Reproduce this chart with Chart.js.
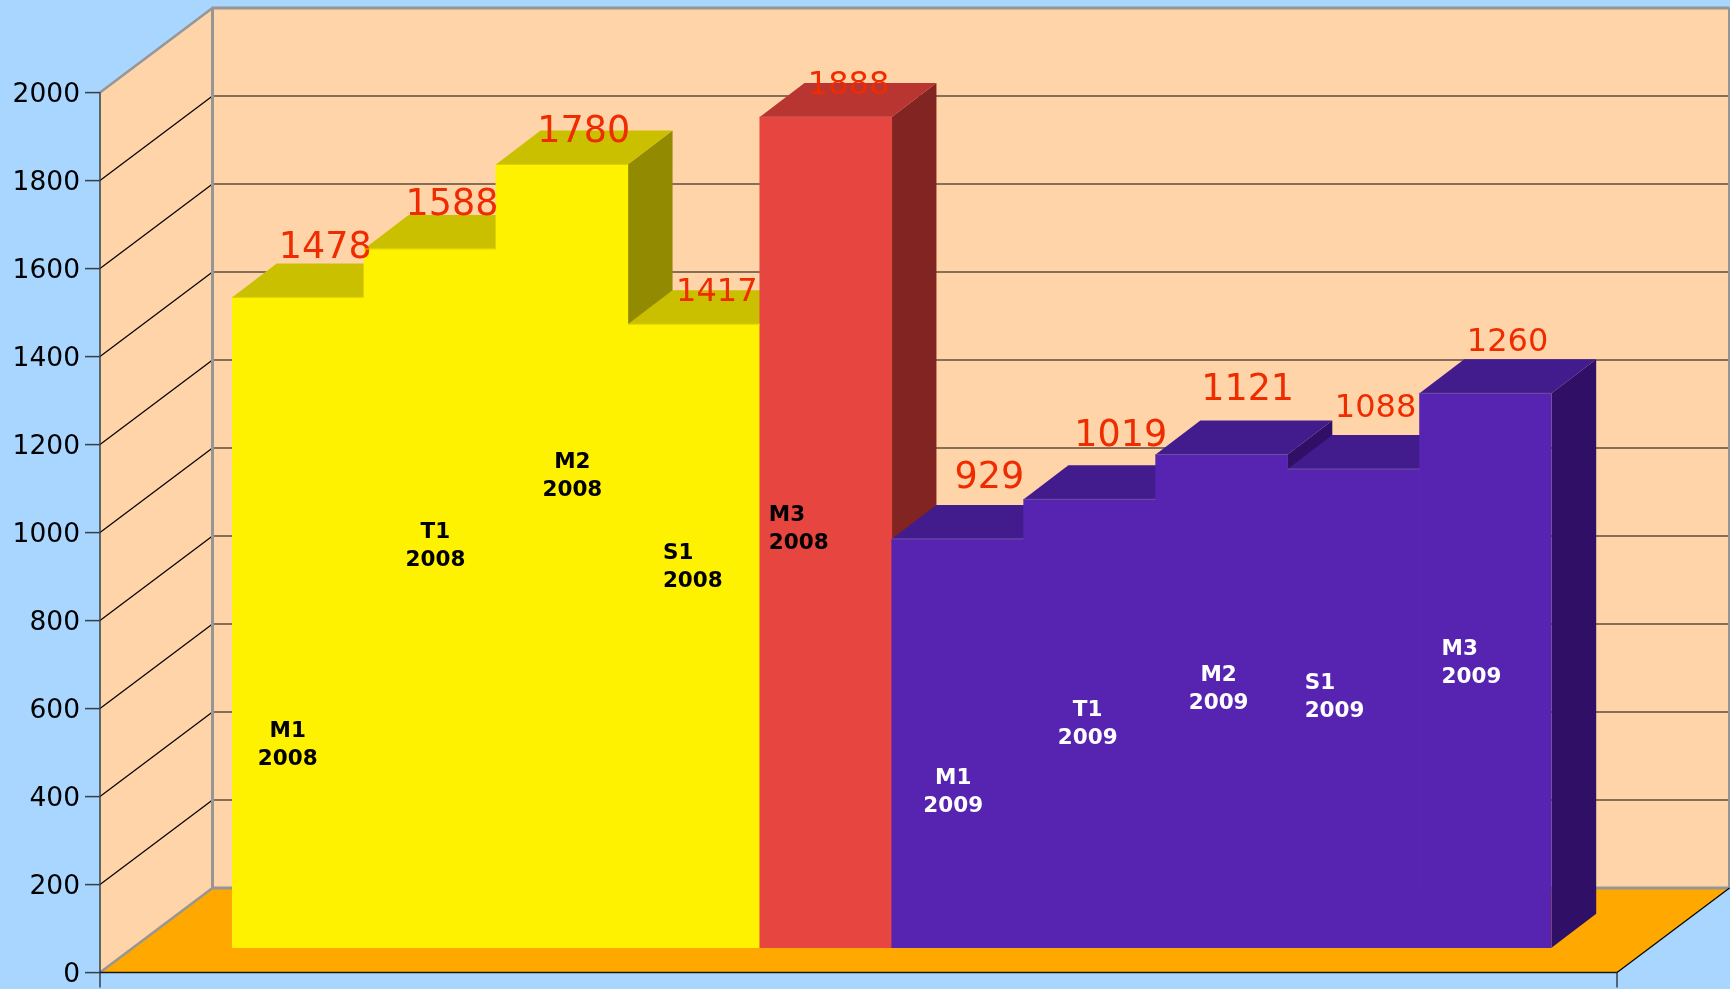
<!DOCTYPE html>
<html>
<head>
<meta charset="utf-8">
<title>Chart</title>
<script src="https://cdn.jsdelivr.net/npm/chart.js@4"></script>
<style>
html, body { margin: 0; padding: 0; background: #a8d6ff; }
canvas { display: block; }
</style>
</head>
<body>
<canvas id="chart" width="1730" height="989"></canvas>
<script>
const categories = ['M1 2008', 'T1 2008', 'M2 2008', 'S1 2008', 'M3 2008', 'M1 2009', 'T1 2009', 'M2 2009', 'S1 2009', 'M3 2009'];
const values = [1478, 1588, 1780, 1417, 1888, 929, 1019, 1121, 1088, 1260];
const tickValues = [0, 200, 400, 600, 800, 1000, 1200, 1400, 1600, 1800, 2000];

// colour group of each bar
const groups = ['yellow', 'yellow', 'yellow', 'yellow', 'red', 'purple', 'purple', 'purple', 'purple', 'purple'];
const faces = {
    yellow: { front: '#fff200', top: '#cbc000', side: '#928a00', edge: '#ddd200', text: '#000000' },
    red: { front: '#e74540', top: '#b83532', side: '#822422', edge: '#d05a56', text: '#000000' },
    purple: { front: '#5624b0', top: '#421b8d', side: '#2f1066', edge: '#6f4f9f', text: '#ffffff' }
};

// hand placement of the texts, the original chart nudged each one
const valueSizes = [36.5, 36.5, 36.5, 32, 32, 36.5, 36.5, 36.5, 32, 32];
const valueShiftX = [27.2, 22, 21.8, 23, 22.8, 31.7, 31, 26, 22, 22];
const valueShiftY = [-39, -34, -23, -23.5, -23, -51, -53, -54.5, -52, -42.6];
const nameShiftX = [-10.2, 5.5, 10.5, -1, -27, -4.5, -2, -3, -19, -14];
const nameLevels = [459, 912, 1070, 865, 950, 352, 507, 586, 568, 645];
const nameAligns = ['center', 'center', 'center', 'left', 'left', 'center', 'center', 'center', 'left', 'left'];

const FONT = '"DejaVu Sans"';
const PX_PER_UNIT = 0.44;
const FRONT_TOP = 8, FRONT_BOTTOM = 972.6;
const BAR_BASE = 947.7;
const RANGE = (FRONT_BOTTOM - FRONT_TOP) / PX_PER_UNIT;
const BAR_OFFSET = (FRONT_BOTTOM - BAR_BASE) / PX_PER_UNIT;

const AXIS_X = 100, FLOOR_RIGHT = 1617;
const WALL_DX = 112.5, WALL_DY = 84.6;
const BAR_DX = 44.7, BAR_DY = 34;

function poly(ctx, pts, fill) {
    ctx.beginPath();
    pts.forEach((p, i) => i ? ctx.lineTo(p[0], p[1]) : ctx.moveTo(p[0], p[1]));
    ctx.closePath();
    ctx.fillStyle = fill;
    ctx.fill();
}

function line(ctx, x1, y1, x2, y2, color, width) {
    ctx.beginPath();
    ctx.moveTo(x1, y1);
    ctx.lineTo(x2, y2);
    ctx.strokeStyle = color;
    ctx.lineWidth = width;
    ctx.stroke();
}

const box3d = {
    id: 'box3d',
    beforeDatasetsDraw(chart) {
        const ctx = chart.ctx;
        const y = chart.scales.y;
        const y0 = y.getPixelForValue(0);
        const yTop = y.getPixelForValue(2000);
        const bx = AXIS_X + WALL_DX;
        const br = FLOOR_RIGHT + WALL_DX;
        ctx.save();

        // floor and walls
        poly(ctx, [[AXIS_X, y0], [FLOOR_RIGHT, y0], [br, y0 - WALL_DY], [bx, y0 - WALL_DY]], '#ffa800');
        poly(ctx, [[AXIS_X, y0], [AXIS_X, yTop], [bx, yTop - WALL_DY], [bx, y0 - WALL_DY]], '#ffd4a8');
        poly(ctx, [[bx, yTop - WALL_DY], [br, yTop - WALL_DY], [br, y0 - WALL_DY], [bx, y0 - WALL_DY]], '#ffd4a8');

        // grid on both walls, tick marks on the front axis
        tickValues.forEach(v => {
            const py = y.getPixelForValue(v);
            if (v > 0 && v < 2000) {
                line(ctx, bx, py - WALL_DY, br, py - WALL_DY, '#5e4e3e', 1.6);
                line(ctx, AXIS_X, py, bx, py - WALL_DY, '#000000', 1.2);
            }
            line(ctx, 85, py, AXIS_X, py, '#333f48', 1.5);
        });

        // grey frame
        const grey = '#969696';
        line(ctx, AXIS_X, yTop, bx, yTop - WALL_DY, grey, 2.5);
        line(ctx, AXIS_X, y0, bx, y0 - WALL_DY, grey, 2.5);
        line(ctx, bx, yTop - WALL_DY, bx, y0 - WALL_DY, grey, 3);
        line(ctx, bx - 1, yTop - WALL_DY, br, yTop - WALL_DY, grey, 3);
        line(ctx, bx, y0 - WALL_DY, br, y0 - WALL_DY, grey, 3);
        line(ctx, br, yTop - WALL_DY, br, y0 - WALL_DY, grey, 3);

        // front axis lines
        line(ctx, AXIS_X, yTop, AXIS_X, y0 + 15, '#333f48', 1.5);
        line(ctx, AXIS_X, y0, FLOOR_RIGHT, y0, '#1a1a10', 1.5);
        line(ctx, FLOOR_RIGHT, y0, FLOOR_RIGHT, y0 + 15, '#333f48', 1.5);
        line(ctx, FLOOR_RIGHT, y0, br, y0 - WALL_DY, '#000000', 1.2);

        // tops and sides of the bars, left to right
        chart.getDatasetMeta(0).data.forEach((bar, i) => {
            const c = faces[groups[i]];
            const l = bar.x - bar.width / 2;
            const r = bar.x + bar.width / 2;
            poly(ctx, [[r, bar.y], [r + BAR_DX, bar.y - BAR_DY], [r + BAR_DX, bar.base - BAR_DY], [r, bar.base]], c.side);
            poly(ctx, [[l, bar.y], [l + BAR_DX, bar.y - BAR_DY], [r + BAR_DX, bar.y - BAR_DY], [r, bar.y]], c.top);
        });
        ctx.restore();
    },
    afterDatasetsDraw(chart) {
        const ctx = chart.ctx;
        ctx.save();
        chart.getDatasetMeta(0).data.forEach((bar, i) => {
            const c = faces[groups[i]];
            const l = bar.x - bar.width / 2;
            const r = bar.x + bar.width / 2;
            line(ctx, l, bar.y, r, bar.y, c.edge, 1);

            // value above the bar
            ctx.textAlign = 'center';
            ctx.textBaseline = 'alphabetic';
            ctx.font = valueSizes[i] + 'px ' + FONT;
            ctx.fillStyle = '#ee2c00';
            ctx.fillText(String(values[i]), bar.x + valueShiftX[i], bar.y + valueShiftY[i]);

            // name inside the bar
            const parts = categories[i].split(' ');
            const cx = bar.x + nameShiftX[i];
            const cy = chart.scales.yBar.getPixelForValue(nameLevels[i]);
            ctx.font = 'bold 21.5px ' + FONT;
            ctx.fillStyle = c.text;
            ctx.textBaseline = 'middle';
            const w = Math.max(ctx.measureText(parts[0]).width, ctx.measureText(parts[1]).width);
            ctx.textAlign = nameAligns[i];
            const tx = nameAligns[i] === 'left' ? cx - w / 2 : cx;
            ctx.fillText(parts[0], tx, cy - 14);
            ctx.fillText(parts[1], tx, cy + 14);
        });
        ctx.restore();
    }
};

new Chart(document.getElementById('chart'), {
    type: 'bar',
    data: {
        labels: categories,
        datasets: [{
            data: values,
            yAxisID: 'yBar',
            backgroundColor: groups.map(g => faces[g].front),
            borderWidth: 0,
            barPercentage: 1,
            categoryPercentage: 1
        }]
    },
    options: {
        responsive: false,
        animation: false,
        layout: { padding: { top: FRONT_TOP, bottom: 989 - FRONT_BOTTOM, right: 178.5, left: 0 } },
        plugins: { legend: { display: false }, tooltip: { enabled: false } },
        scales: {
            x: { display: false },
            y: {
                position: 'left',
                min: 0,
                max: RANGE,
                grid: { display: false, drawTicks: false },
                border: { display: false },
                afterBuildTicks(scale) { scale.ticks = tickValues.map(v => ({ value: v })); },
                afterFit(scale) {
                    // the big tick padding must not eat into the plot height
                    scale.width = 232;
                    scale.paddingTop = 0;
                    scale.paddingBottom = 0;
                },
                ticks: {
                    autoSkip: false,
                    padding: 152,
                    labelOffset: 2.5,
                    color: '#000000',
                    font: { family: 'DejaVu Sans', size: 26.5 },
                    callback: v => String(v)
                }
            },
            yBar: {
                display: false,
                min: -BAR_OFFSET,
                max: RANGE - BAR_OFFSET
            }
        }
    },
    plugins: [box3d]
});
</script>
</body>
</html>
